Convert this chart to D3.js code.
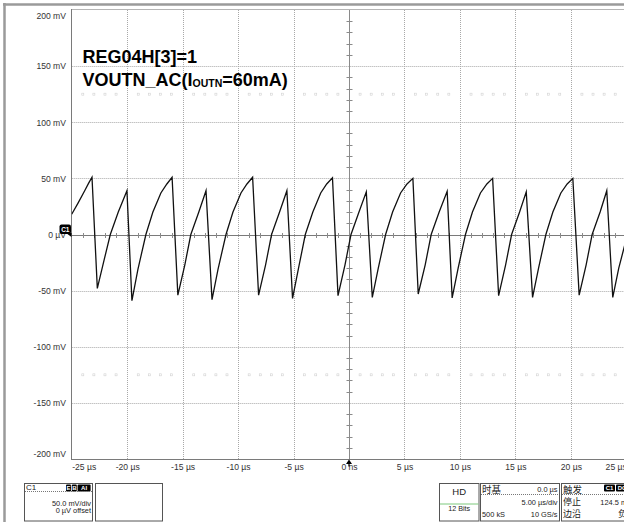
<!DOCTYPE html>
<html>
<head>
<meta charset="utf-8">
<script src="https://cdn.jsdelivr.net/npm/d3@7"></script>
<style>
  html, body { margin: 0; padding: 0; background: #fff; }
  svg { display: block; font-family: "Liberation Sans", Arial, sans-serif; }
</style>
</head>
<body>
<svg id="chart" width="624" height="522"></svg>
<script>
// Horizontal axis: time (µs), 5 µs/div
const timeTicks = [-25, -20, -15, -10, -5, 0, 5, 10, 15, 20, 25];
const timeLabels = ["-25 µs", "-20 µs", "-15 µs", "-10 µs", "-5 µs", "0 ns", "5 µs", "10 µs", "15 µs", "20 µs", "25 µs"];
// Vertical axis: voltage (mV), 50 mV/div
const voltTicks = [200, 150, 100, 50, 0, -50, -100, -150, -200];
const voltLabels = ["200 mV", "150 mV", "100 mV", "50 mV", "0 µV", "-50 mV", "-100 mV", "-150 mV", "-200 mV"];

// Captured trace of channel C1: sample time (µs) and AC output ripple (mV)
const waveTime = [
  -25.00, -24.43, -23.83, -23.46, -23.17, -22.69, -22.06, -21.52, -20.80, -20.02,
  -19.57, -19.03, -18.31, -17.68, -16.96, -16.42, -15.95, -15.43, -14.80, -14.26,
  -13.54, -12.89, -12.35, -11.81, -11.09, -10.46, -9.74, -9.20, -8.69, -8.15,
  -7.52, -6.98, -6.26, -5.60, -5.09, -4.55, -3.94, -3.26, -2.55, -2.01,
  -1.49, -0.99, -0.36, 0.18, 0.90, 1.56, 2.10, 2.64, 3.30, 3.93,
  4.65, 5.23, 5.76, 6.24, 6.87, 7.41, 8.13, 8.85, 9.30, 9.84,
  10.50, 11.13, 11.85, 12.43, 12.95, 13.49, 14.12, 14.66, 15.38, 15.98,
  16.55, 17.09, 17.75, 18.38, 19.10, 19.67, 20.18, 20.75, 21.38, 21.92,
  22.64, 23.24, 23.78, 24.32, 25.00
];
const waveMv = [
  18, 28, 39, 46, 51, -48, -22, 0, 20, 39,
  -59, -31, 0, 20, 37, 45, 51, -54, -27, 0,
  20, 39, -58, -31, 0, 20, 37, 45, 51, -54,
  -27, 0, 20, 39, -57, -30, 0, 20, 37, 45,
  50.5, -54.5, -27, 0, 20, 38, -56, -30, 0, 20,
  37, 45, 50, -53, -27, 0, 20, 38.5, -56.5, -30,
  0, 20, 37, 45, 50, -54.5, -27, 0, 20, 38,
  -56, -30, 0, 20, 37, 45, 50, -54, -27, 0,
  20, 39, -56, -30, -4
];

// Minor divisions (1 µs, 10 mV)
const minorTime = d3.range(-25, 26, 1);
const minorVolt = d3.range(-200, 201, 10);
// Marker rows at ±125 mV
const markerRows = [125, -125];

const svg = d3.select("#chart");
const W = 624, H = 522;
const x = d3.scaleLinear().domain([-25, 25]).range([71.7, 626.3]);
const y = d3.scaleLinear().domain([-200, 200]).range([459, 10]);

// Outer window frame
svg.append("line").attr("x1", 4.5).attr("x2", 4.5).attr("y1", 3).attr("y2", H)
  .attr("stroke", "#9a9a9a").attr("stroke-width", 2.5);
svg.append("line").attr("x1", 3).attr("x2", W).attr("y1", 4.5).attr("y2", 4.5)
  .attr("stroke", "#9a9a9a").attr("stroke-width", 2.5);

const plot = svg.append("g");

// Dotted grid
plot.selectAll("line.vgrid").data(timeTicks.filter(d => d !== 0 && d !== -25))
  .join("line").attr("class", "vgrid")
  .attr("x1", d => Math.round(x(d)) + 0.5).attr("x2", d => Math.round(x(d)) + 0.5)
  .attr("y1", y(200)).attr("y2", y(-200))
  .attr("stroke", "#a8a8a8").attr("stroke-width", 1).attr("stroke-dasharray", "1,1");
plot.selectAll("line.hgrid").data(voltTicks.filter(d => Math.abs(d) !== 200 && d !== 0))
  .join("line").attr("class", "hgrid")
  .attr("x1", x(-25)).attr("x2", W)
  .attr("y1", d => Math.round(y(d)) + 0.5).attr("y2", d => Math.round(y(d)) + 0.5)
  .attr("stroke", "#a8a8a8").attr("stroke-width", 1).attr("stroke-dasharray", "1,1");

// Top edge of graticule
plot.append("line").attr("x1", x(-25)).attr("x2", W)
  .attr("y1", Math.round(y(200)) - 0.5).attr("y2", Math.round(y(200)) - 0.5)
  .attr("stroke", "#b5b5b5");

// Marker rows of small dots at every minor time division
markerRows.forEach(v => {
  plot.selectAll(null).data(minorTime.filter(t => t % 5 !== 0))
    .join("rect")
    .attr("x", t => x(t) - 1).attr("y", y(v) - 1)
    .attr("width", 2).attr("height", 2)
    .attr("fill", "none").attr("stroke", "#d2d2d2").attr("stroke-width", 0.6);
});

// Centre crosshair with minor ticks
const cx = Math.round(x(0)) + 0.5, cy = Math.round(y(0)) + 0.5;
plot.append("line").attr("x1", cx).attr("x2", cx).attr("y1", y(200)).attr("y2", y(-200))
  .attr("stroke", "#8a8a8a");
plot.append("line").attr("x1", x(-25)).attr("x2", W).attr("y1", cy).attr("y2", cy)
  .attr("stroke", "#7a7a7a");
plot.selectAll("line.vtick").data(minorVolt.filter(v => v % 50 !== 0))
  .join("line").attr("class", "vtick")
  .attr("x1", cx - 3).attr("x2", cx + 3)
  .attr("y1", d => Math.round(y(d)) + 0.5).attr("y2", d => Math.round(y(d)) + 0.5)
  .attr("stroke", "#8a8a8a");
plot.selectAll("line.htick").data(minorTime.filter(t => t % 5 !== 0))
  .join("line").attr("class", "htick")
  .attr("x1", d => Math.round(x(d)) + 0.5).attr("x2", d => Math.round(x(d)) + 0.5)
  .attr("y1", cy - 2.5).attr("y2", cy + 2.5)
  .attr("stroke", "#8a8a8a");

// Axis frame lines
plot.append("line").attr("x1", 71.5).attr("x2", 71.5).attr("y1", y(200) - 1).attr("y2", y(-200))
  .attr("stroke", "#7a7a7a");
plot.append("line").attr("x1", 71).attr("x2", W).attr("y1", 459.5).attr("y2", 459.5)
  .attr("stroke", "#7a7a7a");

// Y axis labels
const yAxis = d3.axisLeft(y).tickValues(voltTicks).tickSize(0).tickPadding(0)
  .tickFormat((d, i) => voltLabels[i]);
const yg = svg.append("g").attr("transform", "translate(66,0)").call(yAxis);
yg.select(".domain").remove();
yg.selectAll("text").attr("font-size", 8.6).attr("fill", "#333")
  .attr("font-family", "'Liberation Sans', Arial, sans-serif")
  .attr("dy", d => d === 200 ? "0.95em" : d === -200 ? "-0.25em" : "0.32em");

// X axis labels
const xAxis = d3.axisBottom(x).tickValues(timeTicks).tickSize(0).tickPadding(0)
  .tickFormat((d, i) => timeLabels[i]);
const xg = svg.append("g").attr("transform", "translate(0,464)").call(xAxis);
xg.select(".domain").remove();
xg.selectAll("text").attr("font-size", 8.6).attr("fill", "#333")
  .attr("font-family", "'Liberation Sans', Arial, sans-serif")
  .attr("dy", "0.71em")
  .attr("text-anchor", d => d === -25 ? "start" : d === 25 ? "end" : "middle");

// Waveform
const clipId = "plotclip";
svg.append("clipPath").attr("id", clipId).append("rect")
  .attr("x", x(-25)).attr("y", y(200)).attr("width", x(25) - x(-25)).attr("height", y(-200) - y(200));
const line = d3.line().x((d, i) => x(waveTime[i])).y(d => y(d));
svg.append("path").datum(waveMv)
  .attr("clip-path", `url(#${clipId})`)
  .attr("d", line)
  .attr("fill", "none").attr("stroke", "#111").attr("stroke-width", 1.3)
  .attr("stroke-linejoin", "miter").attr("stroke-miterlimit", 6);

// Channel marker at 0 V
svg.append("rect").attr("x", 59.5).attr("y", 224.5).attr("width", 11.5).attr("height", 9.5)
  .attr("rx", 2).attr("fill", "#000");
svg.append("path").attr("d", `M66,233 L71.5,233 L71.5,237 Z`).attr("fill", "#000");
svg.append("text").attr("x", 65.3).attr("y", 232).attr("text-anchor", "middle")
  .attr("font-size", 6.5).attr("font-weight", "bold").attr("fill", "#fff").text("C1");

// Trigger position marker
svg.append("path")
  .attr("d", `M${x(0)},459.5 L${x(0) - 3},464 L${x(0) + 3},464 Z M${x(0) - 0.6},464 h1.2 v2.5 h-1.2 Z`)
  .attr("fill", "#000");

// Annotation
const ann = svg.append("g").attr("font-weight", "bold").attr("fill", "#000")
  .attr("font-family", "'Liberation Sans', Arial, sans-serif");
ann.append("text").attr("x", 82.5).attr("y", 62.7).attr("font-size", 18).text("REG04H[3]=1");
const t2 = ann.append("text").attr("x", 82.5).attr("y", 86).attr("font-size", 18);
t2.append("tspan").text("VOUTN_AC(I");
t2.append("tspan").attr("font-size", 10.5).attr("dy", 1).text("OUTN");
t2.append("tspan").attr("dy", -1).text("=60mA)");

// Info panels along the bottom
const panel = svg.append("g").attr("font-family", "'Liberation Sans', Arial, sans-serif").attr("fill", "#222");
const boxStroke = "#555";
function box(x0, w) {
  panel.append("rect").attr("x", x0).attr("y", 483.5).attr("width", w).attr("height", 37.5)
    .attr("fill", "#fff").attr("stroke", boxStroke);
}
function dash(x0, x1, yy) {
  panel.append("line").attr("x1", x0).attr("x2", x1).attr("y1", yy).attr("y2", yy)
    .attr("stroke", "#777").attr("stroke-dasharray", "1,1");
}
function txt(xx, yy, s, size, anchor, opts) {
  const t = panel.append("text").attr("x", xx).attr("y", yy).attr("font-size", size)
    .attr("text-anchor", anchor || "start").text(s);
  if (opts && opts.cjk) t.attr("font-family", "'Noto Sans CJK SC', sans-serif");
  if (opts && opts.fill) t.attr("fill", opts.fill);
  if (opts && opts.bold) t.attr("font-weight", "bold");
  return t;
}
function badge(x0, w, s) {
  panel.append("rect").attr("x", x0).attr("y", 484.5).attr("width", w).attr("height", 7)
    .attr("rx", 1).attr("fill", "#000");
  txt(x0 + w / 2, 490.3, s, 6, "middle", { fill: "#fff", bold: true });
}

// Channel C1 panel
box(24.5, 68);
txt(26, 490, "C1", 8, "start");
badge(66, 5, "E");
badge(71.8, 5, "B");
badge(77.6, 13, "AI");
dash(25, 92, 491.5);
txt(91, 505.5, "50.0 mV/div", 7.4, "end");
txt(91, 513, "0 µV offset", 7.4, "end");
box(95.5, 67);

// Acquisition panel
box(439.5, 39.5);
txt(459.2, 495, "HD", 9.5, "middle");
panel.append("line").attr("x1", 440).attr("x2", 478.5).attr("y1", 504).attr("y2", 504)
  .attr("stroke", "#7cc97c");
txt(459.2, 511, "12 Bits", 7.2, "middle");

// Timebase panel
box(480.5, 79);
txt(482, 492.5, "时基", 9.5, "start", { cjk: true });
txt(557.5, 491.5, "0.0 µs", 7.4, "end");
dash(481, 559, 494.5);
txt(557.5, 505, "5.00 µs/div", 7.4, "end");
txt(482, 517, "500 kS", 7.4, "start");
txt(557.5, 517, "10 GS/s", 7.4, "end");

// Trigger panel
box(561.5, 75);
txt(563, 492.5, "触发", 9.5, "start", { cjk: true });
badge(604, 11, "C1");
badge(616, 12, "DC");
dash(562, 636, 494.5);
txt(563, 505, "停止", 9, "start", { cjk: true });
txt(632, 504.5, "124.5 mV", 7.4, "end");
txt(563, 517, "边沿", 9, "start", { cjk: true });
txt(618, 516.5, "负", 9, "start", { cjk: true });
</script>
</body>
</html>
